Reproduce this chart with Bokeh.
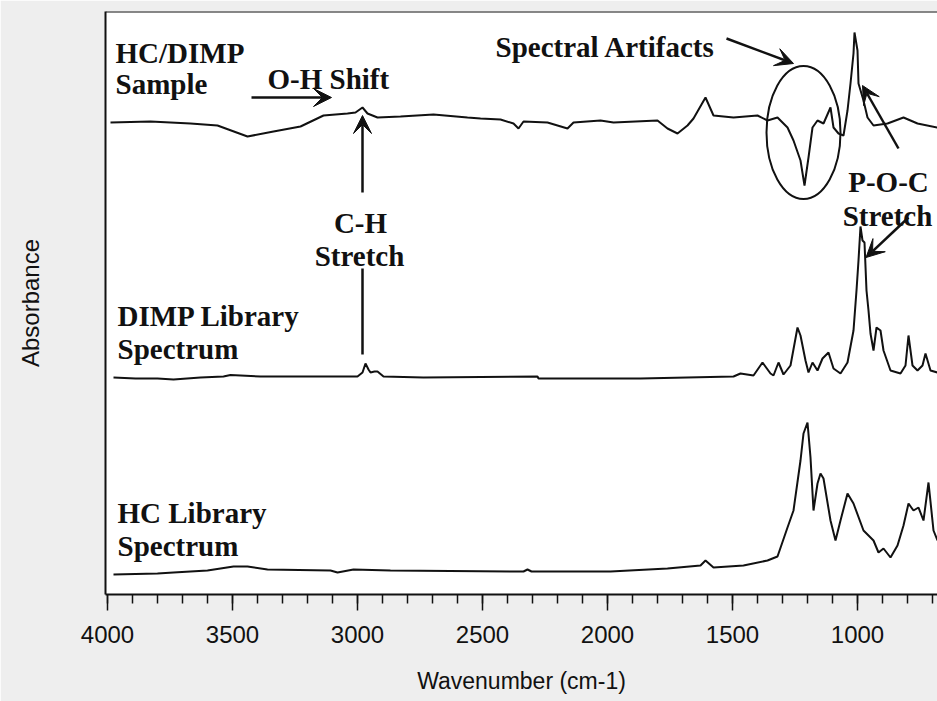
from bokeh.plotting import figure
from bokeh.models import Range1d, FixedTicker, Arrow, VeeHead, Span
from bokeh.core.properties import value
from bokeh.embed import file_html
from bokeh.resources import INLINE

# ---- data (wavenumber cm-1, absorbance with offsets) ----
sample_wn = [3988, 3828, 3668, 3560, 3440, 3336, 3228, 3136, 3040, 3008, 2980, 2960, 2920,
             2828, 2696, 2560, 2508, 2428, 2376, 2356, 2336, 2240, 2160, 2136, 2028, 1976,
             1800, 1760, 1720, 1680, 1656, 1608, 1576, 1496, 1400, 1360, 1320, 1280, 1256,
             1228, 1212, 1196, 1180, 1160, 1136, 1108, 1096, 1076, 1056, 1040, 1028, 1016,
             1012, 1000, 996, 976, 960, 936, 880, 816, 760, 680]
sample_abs = [4.72, 4.73, 4.71, 4.69, 4.58, 4.63, 4.68, 4.79, 4.81, 4.82, 4.87, 4.81, 4.77,
              4.78, 4.80, 4.77, 4.76, 4.75, 4.71, 4.66, 4.73, 4.72, 4.66, 4.72, 4.74, 4.72,
              4.74, 4.66, 4.61, 4.69, 4.76, 4.97, 4.79, 4.77, 4.79, 4.74, 4.77, 4.67, 4.54,
              4.34, 4.09, 4.37, 4.67, 4.74, 4.71, 4.87, 4.67, 4.61, 4.59, 4.84, 5.11, 5.41,
              5.62, 5.44, 5.11, 4.94, 4.77, 4.69, 4.71, 4.77, 4.71, 4.67]

dimp_wn = [3976, 3888, 3800, 3736, 3628, 3536, 3508, 3388, 3268, 3000, 2980, 2968, 2956,
           2948, 2932, 2920, 2896, 2736, 2280, 2276, 1988, 1868, 1496, 1468, 1416, 1380,
           1348, 1336, 1316, 1296, 1268, 1240, 1228, 1208, 1196, 1180, 1160, 1140, 1116,
           1096, 1068, 1040, 1016, 1004, 996, 988, 980, 972, 964, 956, 948, 936, 924, 908,
           896, 868, 828, 808, 796, 780, 760, 740, 728, 708, 680]
dimp_abs = [2.17, 2.16, 2.16, 2.15, 2.17, 2.18, 2.195, 2.18, 2.18, 2.18, 2.22, 2.31, 2.25,
            2.22, 2.23, 2.23, 2.18, 2.17, 2.18, 2.16, 2.16, 2.16, 2.18, 2.21, 2.19, 2.32,
            2.21, 2.19, 2.32, 2.20, 2.29, 2.67, 2.59, 2.34, 2.22, 2.32, 2.24, 2.36, 2.42,
            2.26, 2.21, 2.32, 2.64, 3.04, 3.34, 3.68, 3.54, 3.52, 3.04, 2.84, 2.61, 2.44,
            2.67, 2.64, 2.44, 2.24, 2.21, 2.29, 2.59, 2.29, 2.24, 2.29, 2.41, 2.24, 2.22]

hc_wn = [3976, 3800, 3736, 3600, 3496, 3440, 3360, 3108, 3080, 3016, 2868, 2336, 2320,
         2304, 1988, 1760, 1628, 1608, 1576, 1456, 1360, 1320, 1280, 1256, 1228, 1216,
         1200, 1188, 1176, 1160, 1148, 1136, 1108, 1088, 1068, 1040, 1016, 976, 936, 916,
         896, 868, 840, 816, 796, 776, 756, 736, 716, 696, 680]
hc_abs = [0.20, 0.21, 0.22, 0.24, 0.28, 0.28, 0.25, 0.24, 0.22, 0.25, 0.24, 0.23, 0.25,
          0.23, 0.23, 0.26, 0.29, 0.34, 0.27, 0.29, 0.34, 0.38, 0.67, 0.84, 1.34, 1.61,
          1.72, 1.37, 0.84, 1.11, 1.21, 1.16, 0.74, 0.54, 0.74, 1.01, 0.91, 0.64, 0.54,
          0.42, 0.46, 0.37, 0.49, 0.69, 0.91, 0.84, 0.87, 0.74, 1.12, 0.64, 0.54]

major_ticks = [4000, 3500, 3000, 2500, 2000, 1500, 1000]
minor_ticks = list(range(700, 4001, 100))

INK = "#111111"
SERIF = value("Liberation Serif")

p = figure(width=937, height=701, output_backend="svg", toolbar_location=None,
           x_range=Range1d(4008, 680), y_range=Range1d(0, 5.83),
           min_border_left=105, min_border_right=0, min_border_top=11, min_border_bottom=107,
           background_fill_color="white", border_fill_color="#eeeeee")
p.outline_line_color = None
p.xgrid.visible = False
p.ygrid.visible = False

# spectra
p.line(sample_wn, sample_abs, line_color=INK, line_width=2)
p.line(dimp_wn, dimp_abs, line_color=INK, line_width=2)
p.line(hc_wn, hc_abs, line_color=INK, line_width=2)

# top border line
p.add_layout(Span(location=5.83, dimension="width", line_color=INK, line_width=2))

# x axis
xa = p.xaxis[0]
xa.ticker = FixedTicker(ticks=major_ticks, minor_ticks=minor_ticks)
xa.axis_line_color = INK
xa.axis_line_width = 2
xa.major_tick_in = 0
xa.major_tick_out = 16
xa.minor_tick_in = 0
xa.minor_tick_out = 9
xa.major_tick_line_width = 1.5
xa.minor_tick_line_width = 1.5
xa.major_tick_line_color = INK
xa.minor_tick_line_color = INK
xa.major_label_text_font = "Liberation Sans"
xa.major_label_text_font_size = "24px"
xa.major_label_text_color = INK
xa.major_label_standoff = 15
xa.axis_label = "Wavenumber (cm-1)"
xa.axis_label_text_font = "Liberation Sans"
xa.axis_label_text_font_size = "23px"
xa.axis_label_text_font_style = "normal"
xa.axis_label_text_color = INK
xa.axis_label_standoff = 22

# y axis
ya = p.yaxis[0]
ya.ticker = FixedTicker(ticks=[])
ya.major_label_text_font_size = "0px"
ya.major_tick_out = 0
ya.minor_tick_out = 0
ya.major_tick_line_color = None
ya.minor_tick_line_color = None
ya.axis_line_color = INK
ya.axis_line_width = 2
ya.axis_label = "Absorbance"
ya.axis_label_text_font = "Liberation Sans"
ya.axis_label_text_font_size = "24px"
ya.axis_label_text_font_style = "normal"
ya.axis_label_text_color = INK
ya.axis_label_standoff = 62

# annotation texts
FS = "29px"
p.text(x=[3968, 3968, 3360, 3960, 3960, 3960, 3960, 2448],
       y=[5.42, 5.11, 5.16, 2.79, 2.46, 0.82, 0.49, 5.48],
       text=["HC/DIMP", "Sample", "O-H Shift", "DIMP Library", "Spectrum",
             "HC Library", "Spectrum", "Spectral Artifacts"],
       text_font=SERIF, text_font_style="bold", text_font_size=FS, text_color=INK,
       text_align="left", text_baseline="alphabetic")
p.text(x=[2988, 2992, 876, 880],
       y=[3.72, 3.39, 4.13, 3.79],
       text=["C-H", "Stretch", "P-O-C", "Stretch"],
       text_font=SERIF, text_font_style="bold", text_font_size=FS, text_color=INK,
       text_align="center", text_baseline="alphabetic")

# arrows
def arrow(x0, y0, x1, y1, head=True):
    end = VeeHead(size=18, fill_color=INK, line_color=INK, line_width=1) if head else None
    p.add_layout(Arrow(end=end, x_start=x0, y_start=y0, x_end=x1, y_end=y1,
                       line_color=INK, line_width=2.5))

arrow(3424, 4.97, 3104, 4.97)              # O-H shift
arrow(2980, 4.02, 2980, 4.79)              # C-H stretch (sample)
arrow(2980, 3.26, 2980, 2.40, head=False)  # C-H stretch (library)
arrow(1524, 5.56, 1256, 5.31)              # spectral artifacts
arrow(836, 4.46, 980, 5.09)                # P-O-C (sample)
arrow(796, 3.77, 966, 3.37)                # P-O-C (library)

# artifact circle
p.ellipse(x=[1216], y=[4.62], width=296, height=1.33, fill_color=None,
          line_color=INK, line_width=2)

open("out.html", "w").write(file_html(p, INLINE))
